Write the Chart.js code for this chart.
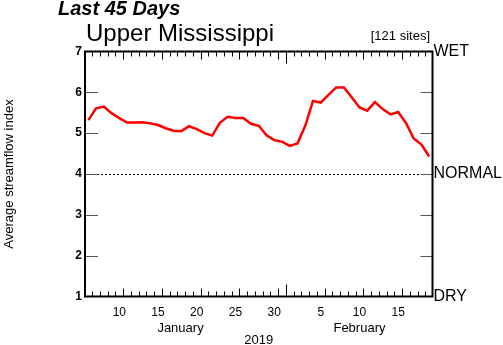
<!DOCTYPE html>
<html>
<head>
<meta charset="utf-8">
<script src="https://cdn.jsdelivr.net/npm/chart.js@4.4.1/dist/chart.umd.min.js"></script>
<style>
  html, body { margin: 0; padding: 0; background: #fff; }
  #wrap { position: relative; width: 503px; height: 345px; }
</style>
</head>
<body>
<div id="wrap"><canvas id="chart" width="503" height="345"></canvas></div>
<script>
// Daily values, Jan 6 – Feb 19, 2019
const dates = [
  '2019-01-06','2019-01-07','2019-01-08','2019-01-09','2019-01-10','2019-01-11','2019-01-12',
  '2019-01-13','2019-01-14','2019-01-15','2019-01-16','2019-01-17','2019-01-18','2019-01-19',
  '2019-01-20','2019-01-21','2019-01-22','2019-01-23','2019-01-24','2019-01-25','2019-01-26',
  '2019-01-27','2019-01-28','2019-01-29','2019-01-30','2019-01-31','2019-02-01','2019-02-02',
  '2019-02-03','2019-02-04','2019-02-05','2019-02-06','2019-02-07','2019-02-08','2019-02-09',
  '2019-02-10','2019-02-11','2019-02-12','2019-02-13','2019-02-14','2019-02-15','2019-02-16',
  '2019-02-17','2019-02-18','2019-02-19'
];
const streamflowIndex = [
  5.32, 5.61, 5.65, 5.49, 5.37, 5.26, 5.26,
  5.27, 5.24, 5.20, 5.12, 5.06, 5.05, 5.17,
  5.10, 5.00, 4.94, 5.26, 5.40, 5.37, 5.37,
  5.23, 5.18, 4.95, 4.83, 4.79, 4.69, 4.75,
  5.18, 5.79, 5.75, 5.94, 6.12, 6.12, 5.88,
  5.63, 5.55, 5.76, 5.59, 5.46, 5.52, 5.25,
  4.87, 4.72, 4.43
];
const tickDates  = ['2019-01-10','2019-01-15','2019-01-20','2019-01-25','2019-01-30','2019-02-05','2019-02-10','2019-02-15'];
const tickLabels = ['10','15','20','25','30','5','10','15'];
const monthLabels = ['January', 'February'];
const yearLabel = '2019';
const classLabels = { 7: 'WET', 4: 'NORMAL', 1: 'DRY' };
const normalIndex = 4;
const siteCount = 121;

const points = dates.map((d, i) => ({ x: i, y: streamflowIndex[i] }));
const tickIdx = tickDates.map(d => dates.indexOf(d));

// where each month name sits along the date axis (in day-index units)
const MONTH_LABEL_AT = { January: 11.9, February: 35 };

const frameAndText = {
  id: 'frameAndText',
  afterDraw(chart) {
    const { ctx, chartArea: a, scales } = chart;
    const xs = scales.x, ys = scales.y;
    ctx.save();

    // dotted "normal" reference line
    const yn = Math.round(ys.getPixelForValue(normalIndex)) + 0.5;
    ctx.strokeStyle = '#000';
    ctx.lineWidth = 1;
    ctx.setLineDash([2, 2]);
    ctx.beginPath(); ctx.moveTo(a.left, yn); ctx.lineTo(a.right, yn); ctx.stroke();
    ctx.setLineDash([]);

    // gray index ticks on both sides
    ctx.strokeStyle = '#555';
    for (let v = 2; v <= 6; v++) {
      const y = Math.round(ys.getPixelForValue(v)) + 0.5;
      ctx.beginPath(); ctx.moveTo(a.left, y); ctx.lineTo(a.left + 13, y); ctx.stroke();
      ctx.beginPath(); ctx.moveTo(a.right - 12, y); ctx.lineTo(a.right, y); ctx.stroke();
    }

    // day ticks along top and bottom (at day boundaries)
    ctx.strokeStyle = '#000';
    for (let i = -1; i < dates.length; i++) {
      const b = i + 0.5;
      if (b < xs.min || b > xs.max) continue;
      const x = Math.round(xs.getPixelForValue(b)) + 0.5;
      const day = i >= 0 ? parseInt(dates[i].slice(8), 10) : 5;
      const next = i + 1 < dates.length ? parseInt(dates[i + 1].slice(8), 10) : 0;
      let len = 5;
      if (day % 5 === 0) len = 8;
      if (next === 1) len = 12;
      ctx.beginPath(); ctx.moveTo(x, a.top); ctx.lineTo(x, a.top + len); ctx.stroke();
      ctx.beginPath(); ctx.moveTo(x, a.bottom); ctx.lineTo(x, a.bottom - len); ctx.stroke();
    }

    // frame
    ctx.lineWidth = 2;
    ctx.strokeRect(a.left, a.top, a.right - a.left, a.bottom - a.top);

    // titles
    ctx.fillStyle = '#000';
    ctx.textBaseline = 'alphabetic';
    ctx.textAlign = 'left';
    ctx.font = 'italic bold 20px "Liberation Sans", Arial, sans-serif';
    ctx.fillText('Last 45 Days', 58, 15);
    ctx.font = '24px "Liberation Sans", Arial, sans-serif';
    ctx.fillText('Upper Mississippi', 86, 41);
    ctx.font = '13px "Liberation Sans", Arial, sans-serif';
    ctx.textAlign = 'right';
    ctx.fillText('[' + siteCount + ' sites]', 430, 40);

    // month and year labels under the date ticks
    ctx.textAlign = 'center';
    ctx.font = '13px "Liberation Sans", Arial, sans-serif';
    monthLabels.forEach(m => {
      ctx.fillText(m, xs.getPixelForValue(MONTH_LABEL_AT[m]), 332);
    });
    ctx.fillText(yearLabel, (a.left + a.right) / 2, 344);
    ctx.restore();
  }
};

new Chart(document.getElementById('chart'), {
  type: 'line',
  data: {
    datasets: [{
      data: points,
      borderColor: '#ff0000',
      borderWidth: 2.5,
      pointRadius: 0,
      tension: 0,
      fill: false
    }]
  },
  options: {
    responsive: false,
    animation: false,
    events: [],
    layout: { padding: { top: 51.5, left: 0, right: 0, bottom: 0 } },
    plugins: { legend: { display: false }, tooltip: { enabled: false }, title: { display: false } },
    scales: {
      x: {
        type: 'linear',
        position: 'bottom',
        min: -0.43,
        max: 44.43,
        afterBuildTicks(scale) { scale.ticks = tickIdx.map(v => ({ value: v })); },
        afterFit(scale) { scale.height = 48.5; },
        ticks: {
          autoSkip: false,
          maxRotation: 0,
          padding: 9,
          color: '#000',
          font: { family: '"Liberation Sans", Arial, sans-serif', size: 12 },
          callback(v) { const k = tickIdx.indexOf(v); return k >= 0 ? tickLabels[k] : ''; }
        },
        grid: { display: false, drawTicks: false },
        border: { display: false }
      },
      y: {
        type: 'linear',
        position: 'left',
        min: 1,
        max: 7,
        afterFit(scale) { scale.width = 85; },
        ticks: {
          stepSize: 1,
          padding: 3,
          color: '#000',
          font: { family: '"Liberation Sans", Arial, sans-serif', size: 12, weight: 'bold' }
        },
        title: {
          display: true,
          text: 'Average streamflow index',
          color: '#000',
          padding: { top: 2, bottom: 0 },
          font: { family: '"Liberation Sans", Arial, sans-serif', size: 13 }
        },
        grid: { display: false, drawTicks: false },
        border: { display: false }
      },
      y2: {
        type: 'linear',
        position: 'right',
        min: 1,
        max: 7,
        afterFit(scale) { scale.width = 70.5; },
        ticks: {
          stepSize: 1,
          autoSkip: false,
          padding: 1,
          color: '#000',
          font: { family: '"Liberation Sans", Arial, sans-serif', size: 16 },
          callback(v) { return classLabels[v] || ''; }
        },
        grid: { display: false, drawTicks: false },
        border: { display: false }
      }
    }
  },
  plugins: [frameAndText]
});
</script>
</body>
</html>
